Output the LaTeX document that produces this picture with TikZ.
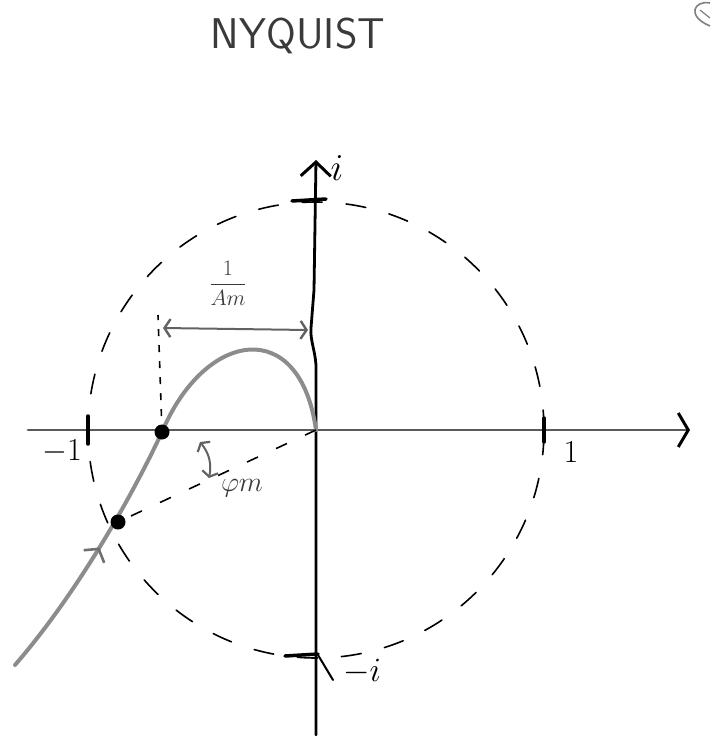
\RequirePackage{fix-cm}
\documentclass[tikz,border=0pt]{standalone}
\usepackage{fontspec}
\usetikzlibrary{arrows.meta,decorations.markings}
\definecolor{curvegray}{HTML}{8C8C8C}
\definecolor{axisgray}{HTML}{5A5A5A}
\definecolor{inkgray}{HTML}{3A3A3A}
\begin{document}
\begin{tikzpicture}[x=1pt,y=-1pt,
  axisline/.style={line width=2.8pt, line cap=round},
  circ/.style={dash pattern=on 20pt off 24pt, line width=1.6pt, line cap=round},
  curveline/.style={line width=4pt, color=curvegray, line cap=round},
  hand/.style={line width=2pt, line cap=round, line join=round},
  tickmark/.style={line width=3.5pt, line cap=round},
  lbl/.style={inner sep=0pt, font=\fontsize{32}{32}\selectfont},
  dot/.style={circle, fill=black, minimum size=15pt, inner sep=0pt}]
\useasboundingbox (0,0) rectangle (710,736);
% key points
\coordinate (O) at (316,430);
\coordinate (Lx) at (28,430);
\coordinate (Rx) at (690,430);
\coordinate (Ty) at (316,160);
\coordinate (By) at (316,735);
\coordinate (S) at (15,665);
% title
\node[font=\sffamily\fontsize{43}{43}\selectfont, text=inkgray] (title) at (298,36) {NYQUIST};
% corner doodle
\draw[gray, line width=1.6pt] (710,3) .. controls (694,0) and (686,16) .. (710,26);
\draw[gray, line width=1.2pt] (700,10) -- (710,18);
% dashed unit circle
\draw[circ] (O) circle[radius=228pt];
% real axis
\draw[axisline, axisgray, -{Straight Barb[length=10pt,width=34pt,line width=3pt,color=black]}] (Lx) -- (Rx);
% imaginary axis
\draw[axisline, black, -{Straight Barb[length=14pt,width=30pt,line width=3pt]}]
  (By) -- (316,365) .. controls (315,350) and (310,340) .. (311,328) -- (314,290) -- (Ty);
% ticks
\draw[tickmark] (88,416) -- (88,444);
\draw[tickmark] (544,418) -- (544,442);
\draw[tickmark] (292,201) -- (326,199);
\draw[tickmark] (285,656) -- (318,654);
\draw[hand] (318,655) -- (333,680);
% nyquist curve
\coordinate (P) at (162,432);
\coordinate (Q) at (118,522);
\draw[curveline, postaction={decorate}, decoration={markings, mark=at position 0.28 with {\arrow{Straight Barb[length=9pt,width=24pt,line width=2.6pt,color=curvegray!80!black]}}}]
  (S) .. controls (80,590) and (135,490) .. (P) .. controls (205,330) and (300,315) .. (O);
% dashed helper lines
\draw[dash pattern=on 7pt off 9pt, line width=1.6pt] (P) -- (158,315);
\draw[dash pattern=on 12pt off 20pt, line width=1.6pt] (O) -- (Q);
% points
\node[dot] (pdot) at (P) {};
\node[dot] (qdot) at (Q) {};
% 1/Am arrow
\coordinate (A1) at (163,328);
\coordinate (A2) at (308,330);
\draw[hand, curvegray!70!black, {Straight Barb[length=6pt,width=18pt,line width=2.4pt]}-{Straight Barb[length=6pt,width=18pt,line width=2.4pt]}] (A1) -- (A2);
\node[inner sep=0pt, text=inkgray, font=\fontsize{22}{22}\selectfont] (am) at (228,283) {$\displaystyle\frac{1}{Am}$};
% phase margin arc
\coordinate (F1) at (200,442);
\coordinate (F2) at (209,478);
\draw[hand, curvegray!70!black, {Straight Barb[length=5pt,width=16pt,line width=2.2pt]}-{Straight Barb[length=5pt,width=16pt,line width=2.2pt]}] (F1) to[bend left=25] (F2);
\node[inner sep=0pt, text=inkgray, font=\fontsize{28}{28}\selectfont] (phim) at (242,488) {$\varphi m$};
% labels
\node[lbl] (lm1) at (62,452) {$-1$};
\node[lbl] (lp1) at (571,452) {$1$};
\node[lbl, font=\fontsize{38}{38}\selectfont] (li) at (337,168) {$i$};
\node[lbl, font=\fontsize{34}{34}\selectfont] (lmi) at (362,672) {$-i$};
\end{tikzpicture}
\end{document}
